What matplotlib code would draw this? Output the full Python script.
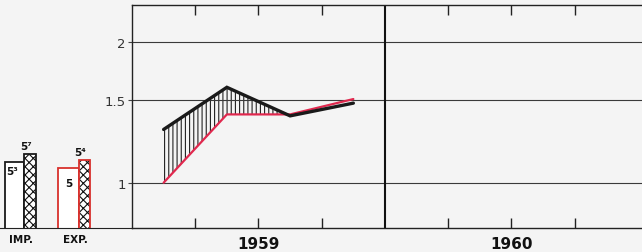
import numpy as np
import matplotlib
matplotlib.use('Agg')
import matplotlib.pyplot as plt
import matplotlib.transforms as mtransforms

# quarterly index values, 1959
quarters = [1959.125, 1959.375, 1959.625, 1959.875]
imports_idx = [1.30, 1.60, 1.39, 1.48]
exports_idx = [1.00, 1.40, 1.40, 1.51]

years = ['1959', '1960']
year_mid = [1959.5, 1960.5]
ytick_vals = [1, 1.5, 2]
ytick_labels = ['1', '1.5', '2']

# small bar block at the left
bar_groups = ['IMP.', 'EXP.']
bar_plain = [5.3, 5.0]
bar_check = [5.7, 5.4]
plain_labels = ['5³', '5']
check_labels = ['5⁷', '5⁴']

plt.rcParams['font.family'] = ['DejaVu Sans']
plt.rcParams['hatch.linewidth'] = 0.8

bg = '#f4f4f4'
W, H = 642, 253
fig = plt.figure(figsize=(W / 100, H / 100), dpi=100, facecolor=bg)

# main chart
ax = fig.add_axes([132 / W, 1 - 229 / H, (W - 132) / W, 223 / H])
ax.set_facecolor(bg)
ax.set_yscale('log')
ax.set_ylim(0.8, 2.4)
ax.set_xlim(1959, 1961.016)

ax.set_yticks(ytick_vals)
ax.set_yticklabels(ytick_labels)
ax.yaxis.set_minor_locator(matplotlib.ticker.NullLocator())
ax.tick_params(axis='y', which='major', direction='out', length=3, width=0.8,
               color='#444444', labelsize=9.5, labelcolor='#333333', pad=1.5)
ax.grid(axis='y', which='major', color='#3a3a3a', lw=0.8)

ax.set_xticks([1959.25, 1959.5, 1959.75, 1960.25, 1960.5, 1960.75])
ax.set_xticklabels([])
ax.tick_params(axis='x', which='major', direction='in', length=7.5, width=1,
               top=True, bottom=True, color='#222222')

# year names under the axis
trans = mtransforms.blended_transform_factory(ax.transData, ax.transAxes)
for yr, pos in zip(years, year_mid):
    ax.annotate(yr, (pos, 0), xycoords=trans, xytext=(0, -5.8),
                textcoords='offset points', ha='center', va='top',
                fontsize=11, fontweight='bold', color='#111111',
                annotation_clip=False)

ax.axvline(1960, color='#111111', lw=1.5)

for side in ['top', 'bottom', 'left']:
    ax.spines[side].set_color('#222222')
    ax.spines[side].set_linewidth(1)
ax.spines['right'].set_visible(False)

x = np.array(quarters)
imp = np.array(imports_idx)
exp = np.array(exports_idx)
ax.fill_between(x, exp, imp, where=imp >= exp, interpolate=True,
                facecolor='none', edgecolor='#222222', hatch='||||', lw=0)
ax.plot(x, exp, color='#e0284e', lw=1.6, solid_capstyle='round', zorder=3)
ax.plot(x, imp, color='#1a1a1a', lw=2.4, solid_capstyle='round',
        solid_joinstyle='miter', zorder=4)

# left bar block
bx = fig.add_axes([0, 1 - 229 / H, 132 / W, 100 / H])
bx.set_facecolor('none')
bx.set_xlim(0, 132)
bx.set_ylim(2, 7)
for side in ['top', 'left', 'right']:
    bx.spines[side].set_visible(False)
bx.spines['bottom'].set_color('#222222')
bx.set_xticks([])
bx.set_yticks([])

plain_x = [14.5, 68.5]
plain_w = [19, 21]
check_x = [30, 84.5]
check_w = [12, 11]
edge_cols = ['#1a1a1a', '#d8302c']
label_x = [20.5, 75]

for i in range(2):
    bx.bar(plain_x[i], bar_plain[i], width=plain_w[i], facecolor='white',
           edgecolor=edge_cols[i], lw=1.3, zorder=2)
    bx.bar(check_x[i], bar_check[i], width=check_w[i], facecolor='white',
           edgecolor='#111111', hatch='xxxx', lw=0, zorder=2)
    bx.bar(check_x[i], bar_check[i], width=check_w[i], facecolor='none',
           edgecolor=edge_cols[i], lw=1.3, zorder=3)
    bx.annotate(check_labels[i], (check_x[i] - 4, bar_check[i]),
                xytext=(0, 2), textcoords='offset points', ha='center',
                va='bottom', fontsize=7.5, fontweight='bold', color='#111111')
    if i == 0:
        bx.annotate(plain_labels[i], (plain_x[i] - 2, bar_plain[i]),
                    xytext=(0, -3), textcoords='offset points', ha='center',
                    va='top', fontsize=7.5, fontweight='bold', color='#111111')
    else:
        bx.annotate(plain_labels[i], (plain_x[i], bar_plain[i]),
                    xytext=(0, -7), textcoords='offset points', ha='center',
                    va='top', fontsize=7.5, fontweight='bold', color='#111111')
    bx.annotate(bar_groups[i], (label_x[i], 2), xytext=(0, -4),
                textcoords='offset points', ha='center', va='top',
                fontsize=7.5, fontweight='bold', color='#111111',
                annotation_clip=False)

plt.savefig('out.png', dpi=100, facecolor=bg)
